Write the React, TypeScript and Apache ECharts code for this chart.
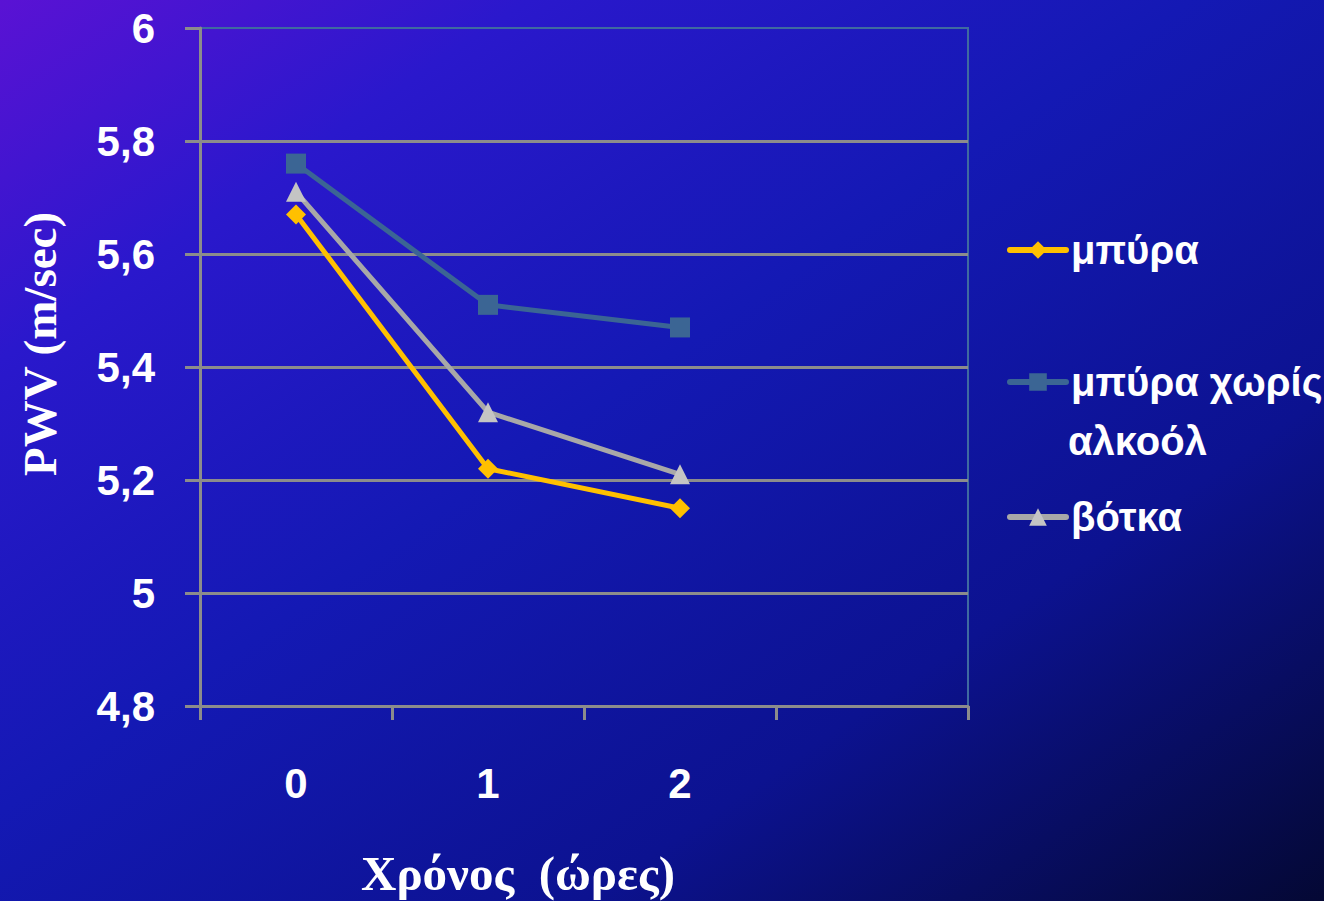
import React, { useEffect, useRef } from "react";
import * as echarts from "echarts";

const categories = ["0", "1", "2", ""];
const beer = [5.67, 5.22, 5.15];
const beerNoAlcohol = [5.76, 5.51, 5.47];
const vodka = [5.71, 5.32, 5.21];
const seriesNames = ["μπύρα", "μπύρα χωρίς αλκοόλ", "βότκα"];
const legendFirstLine = "μπύρα χωρίς";
const legendSecondLine = "αλκοόλ";
const yMin = 4.8;
const yMax = 6;
const yStep = 0.2;
const yTitle = "PWV (m/sec)";
const xTitle = "Χρόνος  (ώρες)";

const COL_BEER = "#FFC000";
const COL_NOALC = "#3B6594";
const GRID_GRAY = "#8C8C8C";
const BORDER_BLUE = "#3F6AA0";

const labelFont = { color: "#ffffff", fontSize: 42, fontWeight: "bold" as const, fontFamily: "Liberation Sans" };
const legendText = { color: "#ffffff", fontSize: 40, fontWeight: "bold" as const, fontFamily: "Liberation Sans" };

export default function App() {
  const ref = useRef<HTMLDivElement>(null);
  useEffect(() => {
    document.body.style.margin = "0";
    const chart = echarts.init(ref.current!, null, { renderer: "svg" });
    const legendBase = {
      left: 1007,
      orient: "vertical",
      itemWidth: 56,
      itemHeight: 22,
      padding: 0,
      selectedMode: false,
      textStyle: legendText,
      lineStyle: { width: 6, cap: "round" },
    };
    chart.setOption({
      animation: false,
      backgroundColor: new echarts.graphic.LinearGradient(0, 0, 1, 1, [
        { offset: 0, color: "#5a12d4" },
        { offset: 0.2, color: "#2a18cc" },
        { offset: 0.45, color: "#1419b4" },
        { offset: 0.72, color: "#0c1290" },
        { offset: 1, color: "#040834" },
      ]),
      grid: {
        left: 200,
        top: 28,
        width: 768,
        height: 678,
        show: true,
        borderColor: BORDER_BLUE,
        borderWidth: 2,
        backgroundColor: "transparent",
      },
      xAxis: {
        type: "category",
        data: categories,
        boundaryGap: true,
        axisLine: { show: true, lineStyle: { color: GRID_GRAY, width: 3 } },
        axisTick: { show: true, length: 14, alignWithLabel: false, lineStyle: { color: GRID_GRAY, width: 3 } },
        axisLabel: { ...labelFont, margin: 56 },
        splitLine: { show: false },
      },
      yAxis: {
        type: "value",
        min: yMin,
        max: yMax,
        interval: yStep,
        axisLine: { show: true, lineStyle: { color: GRID_GRAY, width: 3 } },
        axisTick: { show: true, length: 15, lineStyle: { color: GRID_GRAY, width: 3 } },
        axisLabel: {
          ...labelFont,
          margin: 45,
          formatter: (v: number) => String(Number(v.toFixed(1))).replace(".", ","),
        },
        splitLine: { show: true, showMaxLine: false, lineStyle: { color: GRID_GRAY, width: 3 } },
      },
      legend: [
        { ...legendBase, data: [seriesNames[0]], top: 230 },
        { ...legendBase, data: [seriesNames[1]], top: 362, formatter: () => legendFirstLine },
        { ...legendBase, data: [seriesNames[2]], top: 497 },
      ],
      graphic: [
        {
          type: "text",
          x: 40,
          y: 344,
          rotation: Math.PI / 2,
          style: {
            text: yTitle,
            fill: "#ffffff",
            font: 'bold 47px "Liberation Serif"',
            textAlign: "center",
            textVerticalAlign: "middle",
          },
        },
        {
          type: "text",
          x: 518,
          y: 873,
          style: {
            text: xTitle,
            fill: "#ffffff",
            font: 'bold 49px "Liberation Serif"',
            textAlign: "center",
            textVerticalAlign: "middle",
          },
        },
        {
          type: "text",
          x: 1068,
          y: 441,
          style: {
            text: legendSecondLine,
            fill: "#ffffff",
            font: 'bold 40px "Liberation Sans"',
            textAlign: "left",
            textVerticalAlign: "middle",
          },
        },
      ],
      series: [
        {
          name: seriesNames[0],
          type: "line",
          data: beer,
          symbol: "diamond",
          symbolSize: 20,
          lineStyle: { color: COL_BEER, width: 5 },
          itemStyle: { color: COL_BEER },
        },
        {
          name: seriesNames[1],
          type: "line",
          data: beerNoAlcohol,
          symbol: "rect",
          symbolSize: 20,
          lineStyle: { color: COL_NOALC, width: 5 },
          itemStyle: { color: COL_NOALC },
        },
        {
          name: seriesNames[2],
          type: "line",
          data: vodka,
          symbol: "triangle",
          symbolSize: 20,
          lineStyle: { color: "#A8A8A8", width: 5 },
          itemStyle: { color: "#C4C4C4" },
        },
      ],
    });
    return () => chart.dispose();
  }, []);
  return <div ref={ref} style={{ width: 1324, height: 901 }} />;
}
